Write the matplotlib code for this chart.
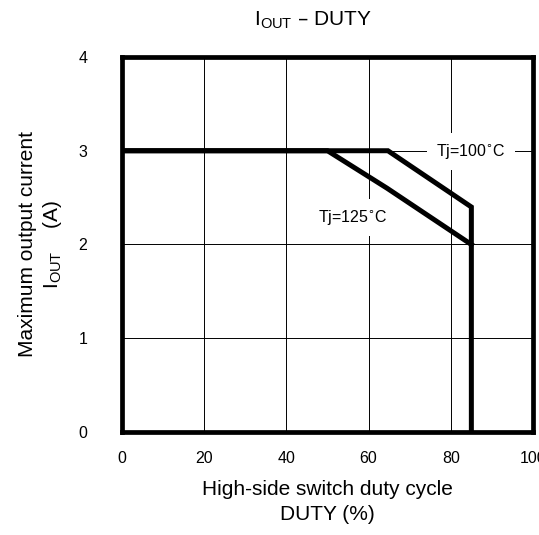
import matplotlib
matplotlib.use('agg')
import matplotlib.pyplot as plt

plt.rcParams['font.family'] = ['Liberation Sans', 'DejaVu Sans']

# curve data
duty_100 = [0, 64.7, 85, 85]
iout_100 = [3.0, 3.0, 2.4, 0]
duty_125 = [0, 50, 64.5, 85]
iout_125 = [3.0, 3.0, 2.6, 2.0]
x_ticks = [0, 20, 40, 60, 80, 100]
y_ticks = [0, 1, 2, 3, 4]

fig = plt.figure(figsize=(5.39, 5.35), dpi=100)
ax = fig.add_axes([0.2263, 0.1925, 0.7626, 0.701])

ax.plot(duty_100, iout_100, color='black', lw=3.6, solid_joinstyle='miter', zorder=4)
ax.plot(duty_125, iout_125, color='black', lw=3.6, solid_joinstyle='miter', zorder=4)

ax.set_xlim(0, 100)
ax.set_ylim(0, 4)
ax.set_xticks(x_ticks)
ax.set_yticks(y_ticks)
ax.grid(True, color='black', lw=0.7, zorder=1)
ax.tick_params(length=0, labelsize=11.5)
ax.tick_params(axis='x', pad=14)
ax.tick_params(axis='y', pad=25)
for s in ax.spines.values():
    s.set_linewidth(3.4)
    s.set_zorder(5)

bb = dict(facecolor='white', edgecolor='none', boxstyle='square,pad=0.55')
ax.text(84.9, 2.99, 'Tj=100$^{\\circ}$C', fontsize=11.5, ha='center', va='center', bbox=bb, zorder=3)
ax.text(56.2, 2.29, 'Tj=125$^{\\circ}$C', fontsize=11.5, ha='center', va='center', bbox=bb, zorder=3)

ax.set_xlabel('High-side switch duty cycle\nDUTY (%)', fontsize=15, labelpad=10, linespacing=1.35)
ax.set_ylabel('Maximum output current\nI$_{\\mathregular{OUT}}$    (A)', fontsize=15, labelpad=10, linespacing=1.25)
fig.text(0.58, 0.962, 'I$_{\\mathregular{OUT}}$ – DUTY', fontsize=15, ha='center', va='center')

fig.savefig('out.png', dpi=100)
